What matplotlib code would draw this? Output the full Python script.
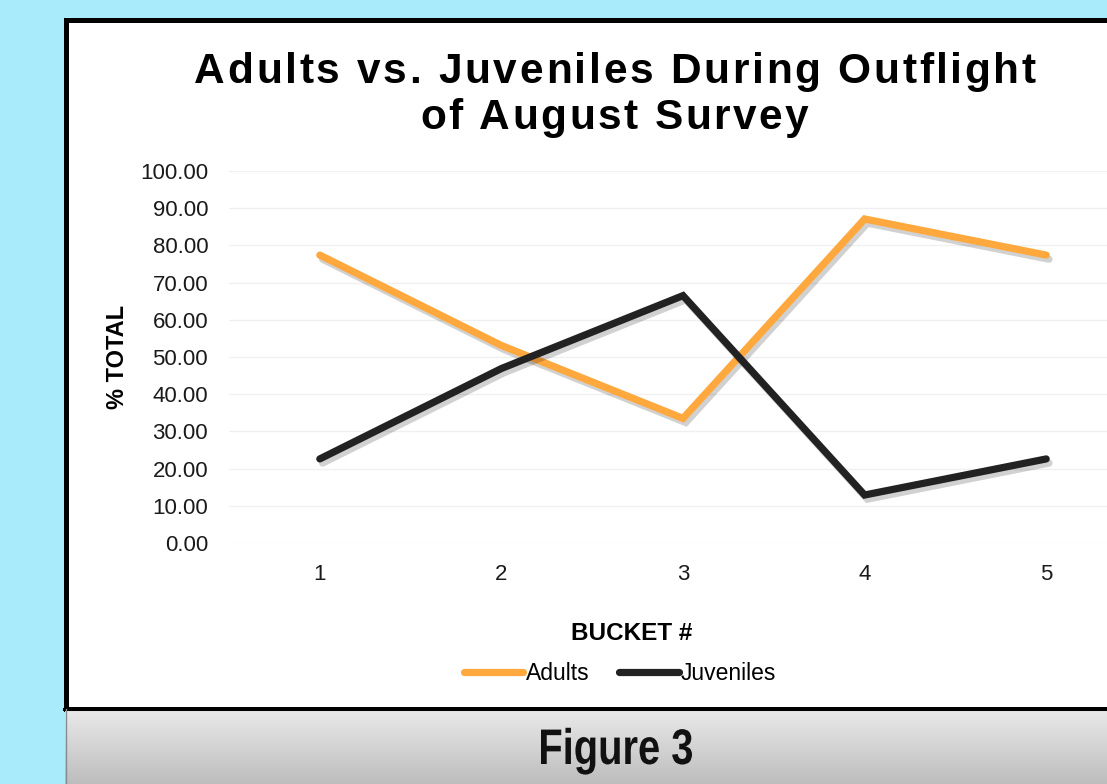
import numpy as np
import matplotlib
matplotlib.use("Agg")
import matplotlib.pyplot as plt
import matplotlib.patheffects as pe
from matplotlib.patches import Rectangle, PathPatch
from matplotlib.lines import Line2D
from matplotlib.colors import LinearSegmentedColormap
from matplotlib.ft2font import FT2Font
from matplotlib.font_manager import FontProperties, findfont
from matplotlib.textpath import TextPath
from matplotlib.transforms import Affine2D

# data
buckets = [1, 2, 3, 4, 5]
adults = [77.4, 53.1, 33.5, 87.1, 77.4]
juveniles = [22.6, 46.9, 66.5, 12.9, 22.6]
yticks = list(range(0, 101, 10))
title_lines = ["Adults vs. Juveniles During Outflight", "of August Survey"]

ORANGE = "#FFA83D"
DARK = "#222222"

W, H = 1107, 784
fig = plt.figure(figsize=(W / 100, H / 100), dpi=100)
fig.patch.set_facecolor("#a9ebfa")

# pixel-coordinate axes for the decorations
bg = fig.add_axes([0, 0, 1, 1], zorder=0)
bg.add_patch(Rectangle((65.5, 19.5), 1100, 689, facecolor="white",
                       edgecolor="black", lw=3.6, zorder=1))
grad = np.linspace(0, 1, 100).reshape(-1, 1)
cmap = LinearSegmentedColormap.from_list("grey", ["#eaeaea", "#bdbdbd"])
bg.imshow(grad, cmap=cmap, extent=(65, 1110, 784, 709), aspect="auto", zorder=2)
bg.plot([64, 1110], [709, 709], color="black", lw=2.2, zorder=3)
bg.plot([65.5, 65.5], [709, 784], color="#8a8a8a", lw=1, zorder=3)
bg.set_xlim(0, W)
bg.set_ylim(H, 0)
bg.axis("off")


def spaced_text(ax, text, cx, base_y, size, width):
    # letter-spaced bold title, spread to a given pixel width
    prop = FontProperties(family="Liberation Sans", weight="bold", size=size)
    font = FT2Font(findfont(prop))
    font.set_size(size, 100)
    advs = [font.load_char(ord(c)).linearHoriAdvance / 65536 for c in text]
    track = (width - sum(advs)) / (len(text) - 1)
    x = cx - width / 2
    for c, a in zip(text, advs):
        ax.text(x, base_y, c, fontproperties=prop, ha="left", va="baseline",
                zorder=5)
        x += a + track


spaced_text(bg, title_lines[0], 615, 83, 30.5, 842)
spaced_text(bg, title_lines[1], 614, 129, 30.5, 388)

# condensed "Figure 3" caption: bold glyphs squeezed horizontally
cap_prop = FontProperties(family="Liberation Sans", weight="bold")
tp = TextPath((0, 0), "Figure 3", size=50, prop=cap_prop)
ext = tp.get_extents()
sx = 151 / ext.width
tr = Affine2D().translate(-ext.x0, 0).scale(sx, -1).translate(541, 764)
bg.add_patch(PathPatch(tr.transform_path(tp), facecolor="#111111",
                       edgecolor="none", zorder=5))

bg.text(117, 357, "% TOTAL", rotation=90, ha="center", va="center",
        fontsize=17, fontweight="bold", family="Liberation Sans", zorder=5)
bg.text(632, 633, "BUCKET #", ha="center", va="center",
        fontsize=17.5, fontweight="bold", family="Liberation Sans", zorder=5)

# plot area
ax = fig.add_axes([229 / W, 1 - 543 / H, 908 / W, 372 / H], zorder=3)
ax.patch.set_alpha(0)
shadow = [pe.SimpleLineShadow(offset=(2, -3), shadow_color="black", alpha=0.18),
          pe.Normal()]
ax.plot(buckets, adults, color=ORANGE, lw=5.2, solid_capstyle="round",
        solid_joinstyle="miter", path_effects=shadow, zorder=3)
ax.plot(buckets, juveniles, color=DARK, lw=5.2, solid_capstyle="round",
        solid_joinstyle="miter", path_effects=shadow, zorder=3)

ax.set_xlim(0.5, 5.5)
ax.set_ylim(0, 100)
ax.set_yticks(yticks)
ax.set_yticklabels([f"{v:.2f}" for v in yticks])
ax.set_xticks(buckets)
ax.set_xticklabels([str(b) for b in buckets])
ax.grid(axis="y", color="#f0f0f0", lw=1)
ax.set_axisbelow(True)
for s in ax.spines.values():
    s.set_visible(False)
ax.tick_params(length=0, labelsize=16, labelcolor="#1a1a1a")
ax.tick_params(axis="y", pad=15)
ax.tick_params(axis="x", pad=15)
for lab in ax.get_xticklabels() + ax.get_yticklabels():
    lab.set_family("Liberation Sans")

handles = [Line2D([], [], color=ORANGE, lw=5.2, solid_capstyle="round"),
           Line2D([], [], color=DARK, lw=5.2, solid_capstyle="round")]
leg = ax.legend(handles, ["Adults", "Juveniles"], loc="center",
                bbox_to_anchor=(620 / W, 1 - 674 / H), bbox_transform=fig.transFigure,
                ncol=2, frameon=False, handlelength=2.6, handletextpad=0.1,
                columnspacing=1.3, prop={"family": "Liberation Sans", "size": 16.5})

fig.savefig("out.png", dpi=100, facecolor=fig.get_facecolor())
